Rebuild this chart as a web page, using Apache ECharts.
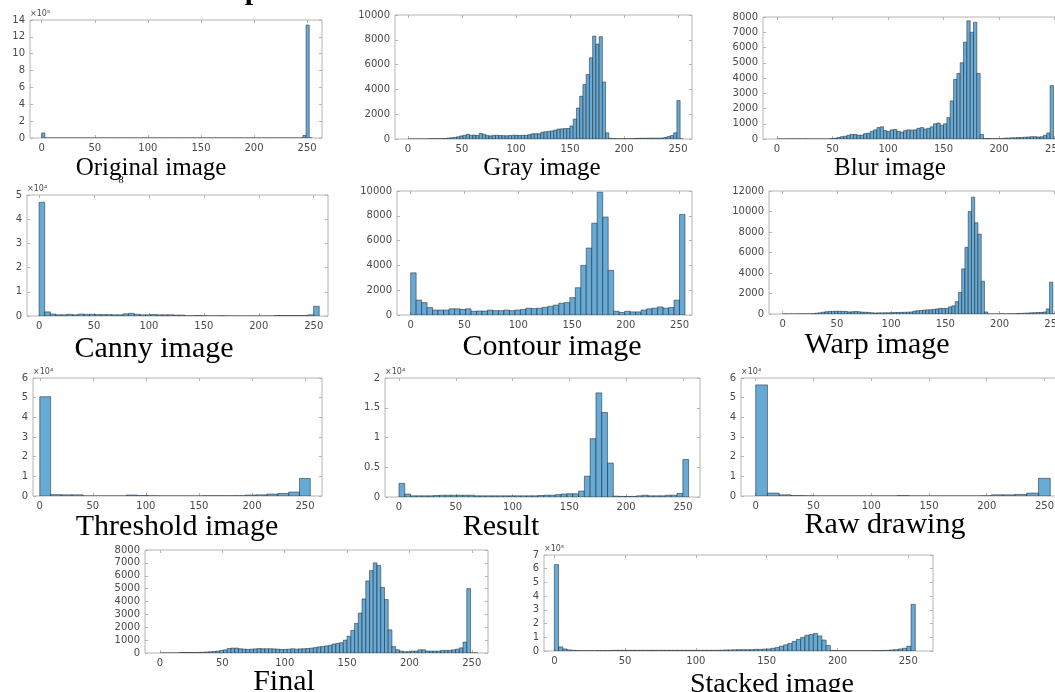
<!DOCTYPE html>
<html><head><meta charset="utf-8">
<script src="https://cdn.jsdelivr.net/npm/echarts@6/dist/echarts.min.js"></script>
<style>html,body{margin:0;padding:0;background:#fff;overflow:hidden}#c{width:1055px;height:692px}</style>
</head><body><div id="c"></div>
<script>
// ---------- data (bin counts) ----------
const xTickValues = [0, 50, 100, 150, 200, 250];

const originalCounts = [60000,0,0,0,0,0,0,0,0,0, 0,0,0,0,0,0,0,0,0,0, 0,0,0,0,0,0,0,0,0,0, 0,0,0,0,0,0,0,0,0,0,
  0,0,0,0,0,0,0,0,0,0, 0,0,0,0,0,0,0,0,0,0, 0,0,0,0,0,0,0,0,0,0, 0,0,0,0,0,0,0,0,0,0, 0,0,30000,1340000,0];

const grayCounts = [0,0,0,0,0,0,20,20,20,20, 30,40,80,100,130,180,250,300,380,300,
  320,280,450,380,280,250,300,300,280,270, 260,280,300,300,280,300,300,350,420,430,
  420,550,580,620,650,720,800,820,840,850, 1050,1600,2500,3450,4400,5200,6550,8300,7650,8250,
  4600,500,50,30,20,20,20,20,20,30, 50,60,60,60,60,70,70,70,80,120, 200,280,500,3100,0];

const blurCounts = [0,0,0,0,10,0,10,0,10,0, 0,0,0,0,0,0,30,50,100,150,
  180,250,300,300,250,250,350,380,500,600, 750,800,550,500,600,620,500,450,550,600,
  580,600,700,750,650,700,800,1000,1050,900, 1000,1400,2500,3900,4300,5000,6350,7750,7000,7650,
  4300,300,30,30,20,20,20,20,60,60, 80,80,100,100,120,130,150,150,130,150, 250,400,3500,0,0];

const cannyCounts = [47000,1700,800,500,500,700,500,800,700,700, 600,600,600,500,500,900,1100,700,500,500,
  600,500,500,500,400,400,100,100,200,100, 30,30,100,30,0,0,0,0,0,0,
  0,0,200,200,200,200,200,200,500,4000];

const contourCounts = [3400,1200,1000,600,400,400,400,500,500,450, 500,300,320,320,400,350,350,400,350,400,
  450,550,520,550,620,700,800,950,1000,1400, 2200,4000,5400,7400,9900,7900,3600,300,200,300,
  250,250,400,500,550,650,550,600,1200,8100];

const warpCounts = [0,0,0,0,0,10,10,10,20,40, 80,120,180,220,250,260,270,270,260,250,
  200,220,250,220,180,170,150,120,100,110, 110,120,120,130,150,150,160,170,180,200,
  280,320,350,380,400,420,450,500,550,550, 550,700,800,1200,2100,4400,6500,10000,11400,8900,
  7800,3200,200,0,0,0,0,20,0,10, 20,20,50,60,80,100,120,130,150,150, 200,500,3100,0,0];

const thresholdCounts = [50500,700,600,600,0,0,0,0,500,200, 100,0,0,0,0,100,100,100,150,500,
  600,1000,1300,2000,8900];

const resultCounts = [2300,500,200,200,200,200,250,300,300,300, 300,300,300,200,200,200,200,200,200,200,
  200,200,200,200,250,300,300,400,500,550, 550,1000,3500,9800,17500,14200,5700,150,100,100,
  100,200,300,200,200,200,300,300,600,6300];

const rawCounts = [56500,1500,600,200,100,0,0,0,0,0, 0,0,200,0,0,0,0,0,0,100,
  600,600,800,1500,9000];

const finalCounts = [0,0,0,0,0,30,40,40,40,40, 50,60,80,100,120,150,200,250,350,380,
  380,330,300,280,300,320,350,330,330,330, 320,300,280,280,300,330,300,320,330,350,
  380,420,480,500,550,600,700,750,800,1000, 1300,1750,2300,3100,4200,5600,6400,7000,6800,5100,
  4150,1800,500,250,150,100,100,150,150,250, 250,150,150,150,150,200,200,200,250,300, 400,850,5000,0,0];

const stackedCounts = [630000,30000,15000,8000,5000,3000,2000,2000,2000,2000, 3000,3000,3000,4000,5000,5000,5000,5000,5000,5000,
  5000,5000,5000,5000,5000,5000,5000,5000,5000,5000, 5000,5000,5000,5000,5000,5000,5000,5000,5000,6000,
  8000,8000,9000,10000,10000,10000,10000,12000,12000,14000, 15000,20000,25000,35000,45000,55000,70000,85000,100000,115000,
  120000,128000,110000,80000,40000,5000,3000,2000,2000,2000, 2000,2000,2000,2000,2000,3000,3000,4000,5000,8000,
  10000,15000,20000,35000,340000];

// ---------- layout ----------
const panels = [
  {title:'Original image', counts:originalCounts, bw:3,    box:[30,20,292,118],  xr:[-11,264],   ymax:1400000, yint:200000, div:1e5, exp:'×10⁵', t:[151,176,25]},
  {title:'Gray image',     counts:grayCounts,     bw:3,    box:[395,15,297,124], xr:[-12,263],   ymax:10000,   yint:2000,   div:1,   exp:'',     t:[542,176,25]},
  {title:'Blur image',     counts:blurCounts,     bw:3,    box:[763,17,306,122], xr:[-12.6,263], ymax:8000,    yint:1000,   div:1,   exp:'',     t:[890,176,25]},
  {title:'Canny image',    counts:cannyCounts,    bw:5.1,  box:[27,195,301,121], xr:[-11,263],   ymax:50000,   yint:10000,  div:1e4, exp:'×10⁴', t:[154,359,30]},
  {title:'Contour image',  counts:contourCounts,  bw:5.1,  box:[397,191,295,124],xr:[-12.7,261.5],ymax:10000,  yint:2000,   div:1,   exp:'',     t:[552,357,30]},
  {title:'Warp image',     counts:warpCounts,     bw:3,    box:[769,191,299,123],xr:[-12.6,263], ymax:12000,   yint:2000,   div:1,   exp:'',     t:[877,355,30]},
  {title:'Threshold image',counts:thresholdCounts,bw:10.2, box:[33,378,289,118], xr:[-6.4,266],  ymax:60000,   yint:10000,  div:1e4, exp:'×10⁴', t:[177,537,30]},
  {title:'Result',         counts:resultCounts,   bw:5.1,  box:[385,378,315,119],xr:[-12.3,265], ymax:20000,   yint:5000,   div:1e4, exp:'×10⁴', t:[501,537,30]},
  {title:'Raw drawing',    counts:rawCounts,      bw:10.2, box:[741,378,322,118],xr:[-12.7,266], ymax:60000,   yint:10000,  div:1e4, exp:'×10⁴', t:[885,535,30]},
  {title:'Final',          counts:finalCounts,    bw:3,    box:[145,550,343,103],xr:[-12,263],   ymax:8000,    yint:1000,   div:1,   exp:'',     t:[284,692,30]},
  {title:'Stacked image',  counts:stackedCounts,  bw:3,    box:[544,555,389,96], xr:[-7.3,267.5],ymax:700000,  yint:100000, div:1e5, exp:'×10⁵', t:[772,694,28]}
];

const BAR = '#66AAD7', EDGE = '#1c1c1c', BORDER = '#b4b4b4', LABEL = '#4a4a4a';
const labelFont = {fontFamily:'DejaVu Sans', fontSize:10, color:LABEL};

function renderItem(params, api) {
  const p0 = api.coord([api.value(0), api.value(2)]);
  const p1 = api.coord([api.value(1), 0]);
  return {type:'rect', shape:{x:p0[0], y:p0[1], width:p1[0]-p0[0], height:p1[1]-p0[1]},
          style:{fill:BAR, stroke:EDGE, lineWidth:0.5}};
}

const grid = [], xAxis = [], yAxis = [], series = [], graphic = [];
panels.forEach((p, k) => {
  grid.push({left:p.box[0], top:p.box[1], width:p.box[2], height:p.box[3], show:true,
             borderColor:BORDER, borderWidth:1, backgroundColor:'#fff', containLabel:false,
             outerBoundsMode:'none'});
  const xBase = {type:'value', gridIndex:k, min:p.xr[0], max:p.xr[1], splitLine:{show:false},
                 axisLine:{show:false, onZero:false}};
  xAxis.push(Object.assign({}, xBase, {position:'bottom',
    axisTick:{show:true, inside:true, length:3, lineStyle:{color:BORDER}, customValues:xTickValues},
    axisLabel:Object.assign({show:true, margin:5, customValues:xTickValues}, labelFont)}));
  xAxis.push(Object.assign({}, xBase, {position:'top',
    axisTick:{show:true, inside:true, length:3, lineStyle:{color:BORDER}, customValues:xTickValues},
    axisLabel:{show:false}}));
  const yBase = {type:'value', gridIndex:k, min:0, max:p.ymax, interval:p.yint, splitLine:{show:false},
                 axisLine:{show:false, onZero:false}};
  yAxis.push(Object.assign({}, yBase, {position:'left',
    name:p.exp, nameLocation:'end', nameGap:2,
    nameTextStyle:{fontFamily:'DejaVu Sans', fontSize:8, color:LABEL, align:'left', verticalAlign:'bottom'},
    axisTick:{show:true, inside:true, length:3, lineStyle:{color:BORDER}},
    axisLabel:Object.assign({show:true, margin:5, formatter:v => String(+(v / p.div).toFixed(2))}, labelFont)}));
  yAxis.push(Object.assign({}, yBase, {position:'right',
    axisTick:{show:true, inside:true, length:3, lineStyle:{color:BORDER}}, axisLabel:{show:false}}));
  series.push({type:'custom', xAxisIndex:2*k, yAxisIndex:2*k, clip:true, renderItem:renderItem,
    data:p.counts.map((c, i) => [i * p.bw, (i + 1) * p.bw, c]), silent:true, animation:false});
  graphic.push({type:'text', x:p.t[0], y:p.t[1] - 0.32 * p.t[2], silent:true,
    style:{text:p.title, font:p.t[2] + 'px "Liberation Serif"', fill:'#000', align:'center', verticalAlign:'middle'}});
});
// stray glyph fragments visible in the reference
graphic.push({type:'text', x:253, y:-9, silent:true,
  style:{text:'p', font:'bold 30px "Liberation Serif"', fill:'#000', align:'center', verticalAlign:'middle'}});
graphic.push({type:'text', x:121, y:180, silent:true,
  style:{text:'8', font:'11px "Liberation Serif"', fill:'#000', align:'center', verticalAlign:'middle'}});

const chart = echarts.init(document.getElementById('c'), null, {renderer:'canvas'});
chart.setOption({animation:false, backgroundColor:'#fff', grid, xAxis, yAxis, series, graphic});
</script></body></html>
